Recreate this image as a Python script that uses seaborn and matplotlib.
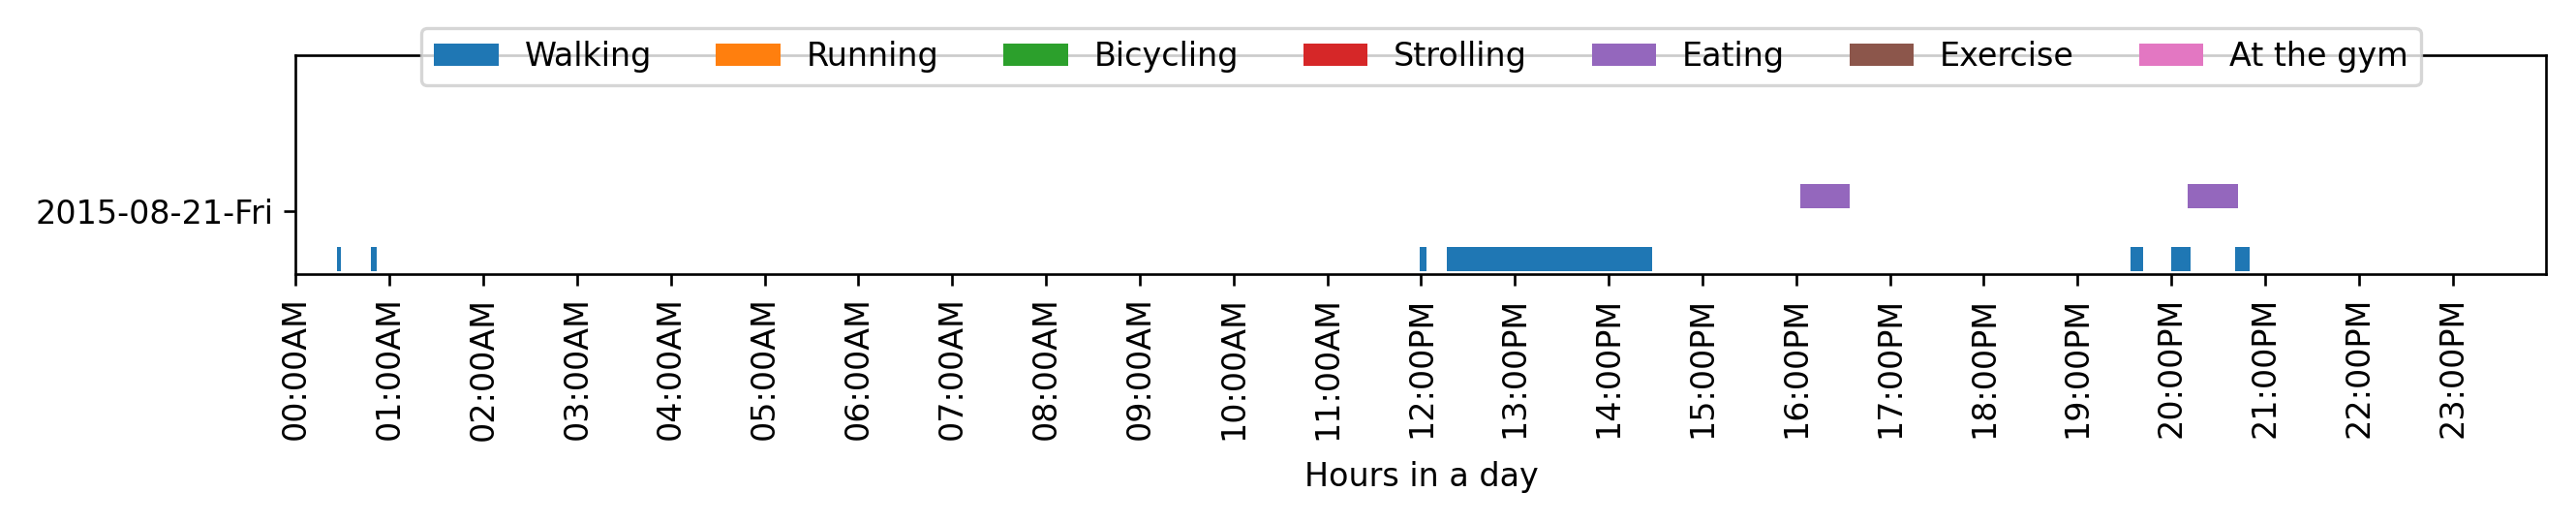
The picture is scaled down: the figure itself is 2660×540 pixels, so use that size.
import matplotlib
matplotlib.use("Agg")
import matplotlib.pyplot as plt
import seaborn as sns

# activities shown in the legend (order = colour order)
activities = ["Walking", "Running", "Bicycling", "Strolling", "Eating", "Exercise", "At the gym"]

day_label = "2015-08-21-Fri"

# (start hour, duration in hours) per activity
walking = [(0.44, 0.04), (0.80, 0.06), (11.99, 0.07), (12.27, 2.19),
           (19.57, 0.13), (20.00, 0.21), (20.68, 0.16)]
running = []
bicycling = []
strolling = []
eating = [(16.04, 0.53), (20.18, 0.53)]
exercise = []
gym = []

spans = [walking, running, bicycling, strolling, eating, exercise, gym]

hours = list(range(24))
hour_labels = [f"{h:02d}:00{'AM' if h < 12 else 'PM'}" for h in hours]

colors = sns.color_palette("tab10", len(activities))

DPI = 240
fig, ax = plt.subplots(figsize=(2660 / DPI, 540 / DPI), dpi=DPI)
fig.subplots_adjust(left=0.1148, right=0.9885, top=0.894, bottom=0.4755)

row_base = 0.013
row_step = 0.0722
bar_h = 0.111

for i, (name, segs) in enumerate(zip(activities, spans)):
    ax.broken_barh(segs, (row_base + i * row_step, bar_h),
                   facecolors=colors[i], label=name)

ax.set_xlim(0, 24)
ax.set_ylim(0, 1)
ax.set_xticks(hours)
ax.set_xticklabels(hour_labels, rotation=90)
ax.set_yticks([0.287])
ax.set_yticklabels([day_label])
ax.set_xlabel("Hours in a day", labelpad=6.5)

ax.legend(loc="upper center", bbox_to_anchor=(0.5, 1.2), ncol=len(activities))

fig.savefig("out.png", dpi=DPI)
